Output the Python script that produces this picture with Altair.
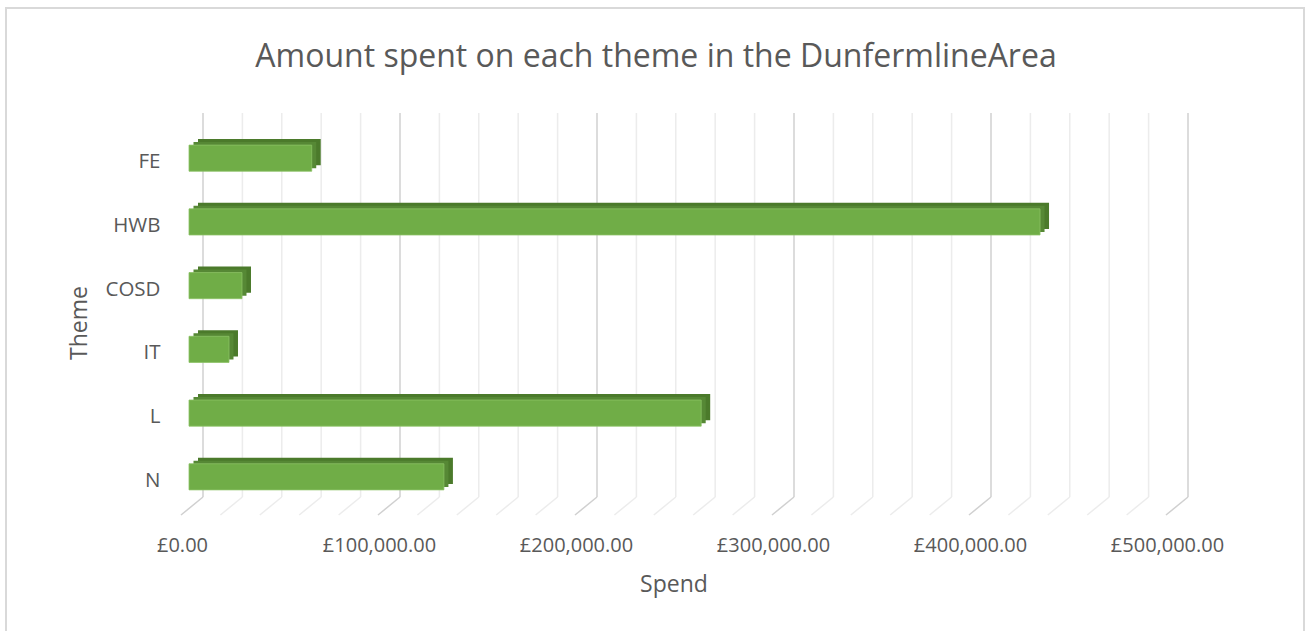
import altair as alt
import pandas as pd

themes = ["FE", "HWB", "COSD", "IT", "L", "N"]
spend = [62300, 432000, 26900, 20300, 260000, 129400]

grid_values = [0, 20000, 40000, 60000, 80000, 100000, 120000, 140000, 160000, 180000,
               200000, 220000, 240000, 260000, 280000, 300000, 320000, 340000, 360000,
               380000, 400000, 420000, 440000, 460000, 480000, 500000]
major_values = [0, 100000, 200000, 300000, 400000, 500000]

title_text = "Amount spent on each theme in the DunfermlineArea"
x_title = "Spend"
y_title = "Theme"

FONT = "Open Sans"
TXT = "#595959"

bars_df = pd.DataFrame({"theme": themes, "spend": spend})
grid_df = pd.DataFrame({"v": grid_values,
                        "major": [v in major_values for v in grid_values]})

W, H = 985, 383
xscale = alt.Scale(domain=[0, 500000], nice=False, zero=True)
yscale = alt.Scale(domain=themes, paddingInner=0.59, paddingOuter=0.3)

x_axis = alt.Axis(values=major_values, labelExpr='"£" + format(datum.value, ",.2f")',
                  domain=False, ticks=False, grid=False, labelFont=FONT,
                  labelFontSize=20, labelColor=TXT, labelPadding=26,
                  labelOffset=-7, labelFlush=False, title=None)
y_axis = alt.Axis(domain=False, ticks=False, grid=False, labelFont=FONT,
                  labelFontSize=20.5, labelColor=TXT, labelPadding=29,
                  labelOffset=4, title=None)

border = alt.Chart(pd.DataFrame({"k": [0]})).mark_rect(
    fillOpacity=0, stroke="#d9d9d9", strokeWidth=2
).encode(x=alt.value(-183), x2=alt.value(1115), y=alt.value(-118), y2=alt.value(520))

grid_color = alt.condition("datum.major", alt.value("#d0d0d0"), alt.value("#ececec"))

grid_v = alt.Chart(grid_df).mark_rule(xOffset=14, strokeWidth=1.5).encode(
    x=alt.X("v:Q", scale=xscale, axis=x_axis),
    y=alt.value(-13), y2=alt.value(371),
    color=grid_color,
)
grid_d = alt.Chart(grid_df).mark_rule(xOffset=14, x2Offset=-8, strokeWidth=1.5).encode(
    x=alt.X("v:Q", scale=xscale, axis=x_axis),
    x2="v:Q",
    y=alt.value(371), y2=alt.value(389),
    color=grid_color,
)

def bar_layer(color, dx, dy, **kw):
    return alt.Chart(bars_df).mark_bar(color=color, xOffset=dx, yOffset=dy, **kw).encode(
        x=alt.X("spend:Q", scale=xscale, axis=x_axis),
        y=alt.Y("theme:N", scale=yscale, sort=themes, axis=y_axis),
    )

bars_side = bar_layer("#4b7a2b", 9, -6)
bars_top = bar_layer("#568835", 4.5, -3)
bars = bar_layer("#70ad47", 0, 0, stroke="#8cc265", strokeWidth=0.8)

title = alt.Chart(pd.DataFrame({"t": [title_text]})).mark_text(
    font=FONT, fontSize=32, color=TXT, align="center", baseline="middle").encode(
    x=alt.value(467), y=alt.value(-69), text="t:N")
xt = alt.Chart(pd.DataFrame({"t": [x_title]})).mark_text(
    font=FONT, fontSize=23, color=TXT, align="center", baseline="middle").encode(
    x=alt.value(485), y=alt.value(459), text="t:N")
yt = alt.Chart(pd.DataFrame({"t": [y_title]})).mark_text(
    font=FONT, fontSize=23, color=TXT, align="center", baseline="middle", angle=270).encode(
    x=alt.value(-109), y=alt.value(197), text="t:N")

chart = alt.layer(border, grid_v, grid_d, bars_side, bars_top, bars, title, xt, yt).properties(
    width=W, height=H,
    autosize=alt.AutoSizeParams(type="none"),
    padding={"left": 189, "top": 126, "right": 135, "bottom": 122},
    background="white",
).configure_view(stroke=None)

chart.save("out.html", embed_options={"renderer": "svg", "actions": False})
